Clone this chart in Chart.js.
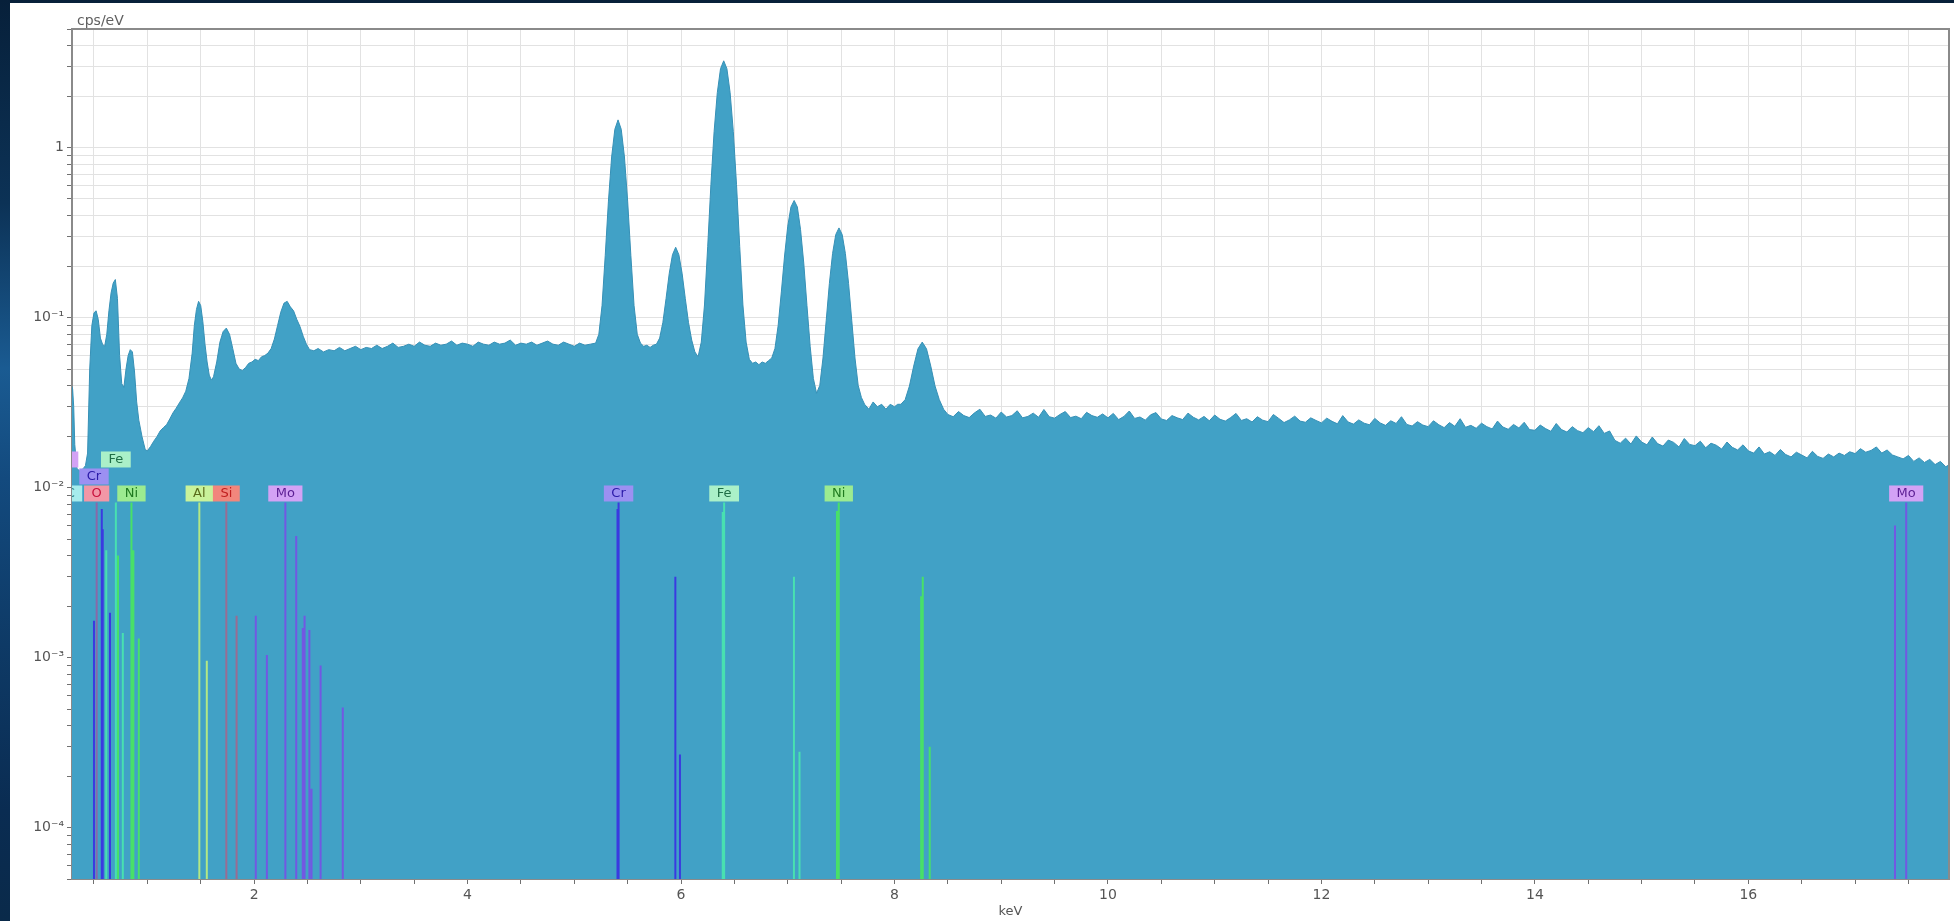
<!DOCTYPE html>
<html><head><meta charset="utf-8">
<script src="https://cdn.jsdelivr.net/npm/chart.js@4.4.1/dist/chart.umd.min.js"></script>
<style>
html,body{margin:0;padding:0;width:1954px;height:921px;overflow:hidden;}
body{position:relative;background:linear-gradient(180deg,#07203a 0%,#0c3256 22%,#1a5b92 40%,#134a7e 52%,#0e3a66 70%,#0a2c52 88%,#0a2a4a 100%);}
#panel{position:absolute;left:10px;top:3px;width:1944px;height:918px;background:#ffffff;}
canvas{display:block;}
</style></head><body>
<div id="panel"><canvas id="c" width="1944" height="918"></canvas></div>
<script>
// ---- spectrum (keV, cps/eV) ----
const energyKeV = [
 0.29,0.30,0.31,0.32,0.34,0.37,0.40,0.42,0.44,0.46,
 0.48,0.50,0.52,0.54,0.56,0.58,0.60,0.62,0.64,0.66,
 0.68,0.70,0.72,0.74,0.76,0.78,0.80,0.82,0.84,0.86,
 0.88,0.90,0.92,0.95,0.98,1.00,
 1.03,1.06,1.09,1.12,1.15,1.18,1.21,1.24,1.27,1.30,
 1.33,1.36,1.39,1.42,1.44,1.46,1.48,1.50,1.52,1.54,
 1.56,1.58,1.60,1.62,1.65,1.68,1.71,1.74,1.77,1.80,
 1.83,1.86,1.89,1.92,1.95,1.98,2.01,2.04,2.07,2.10,
 2.13,2.16,2.19,2.22,2.25,2.28,2.31,2.34,2.37,2.40,
 2.43,2.46,2.49,2.52,2.56,2.60,
 2.65,2.70,2.75,2.80,2.85,2.90,2.95,3.00,3.05,3.10,
 3.15,3.20,3.25,3.30,3.35,3.40,3.45,3.50,3.55,3.60,
 3.65,3.70,3.75,3.80,3.85,3.90,3.95,4.00,4.05,4.10,
 4.15,4.20,4.25,4.30,4.35,4.40,4.45,4.50,4.55,4.60,
 4.65,4.70,4.75,4.80,4.85,4.90,4.95,5.00,5.05,5.10,
 5.15,
 5.20,5.23,5.26,5.29,5.32,5.35,5.38,5.41,5.44,5.47,
 5.50,5.53,5.56,5.59,5.62,5.65,5.68,5.71,5.74,5.77,
 5.80,5.83,5.86,5.89,5.92,5.95,5.98,6.01,6.04,6.07,
 6.10,6.13,6.16,6.19,6.22,6.25,6.28,6.31,6.34,6.37,
 6.40,6.43,6.46,6.49,6.52,6.55,6.58,6.61,6.64,6.67,
 6.70,6.73,6.76,6.79,6.82,6.85,6.88,6.91,6.94,6.97,
 7.00,7.03,7.06,7.09,7.12,7.15,7.18,7.21,7.24,7.27,
 7.30,7.33,7.36,7.39,7.42,7.45,7.48,7.51,7.54,7.57,
 7.60,7.63,7.66,7.69,7.72,7.76,7.80,7.84,7.88,7.92,
 7.96,8.00,8.03,8.06,8.10,8.14,8.18,8.22,8.26,8.30,
 8.34,8.38,8.42,8.46,
 8.50,8.55,8.60,8.65,8.70,8.75,8.80,8.85,8.90,8.95,
 9.00,9.05,9.10,9.15,9.20,9.25,9.30,9.35,9.40,9.45,
 9.50,9.55,9.60,9.65,9.70,9.75,9.80,9.85,9.90,9.95,
 10.00,10.05,10.10,10.15,10.20,10.25,10.30,10.35,10.40,10.45,
 10.50,10.55,10.60,10.65,10.70,10.75,10.80,10.85,10.90,10.95,
 11.00,11.05,11.10,11.15,11.20,11.25,11.30,11.35,11.40,11.45,
 11.50,11.55,11.60,11.65,11.70,11.75,11.80,11.85,11.90,11.95,
 12.00,12.05,12.10,12.15,12.20,12.25,12.30,12.35,12.40,12.45,
 12.50,12.55,12.60,12.65,12.70,12.75,12.80,12.85,12.90,12.95,
 13.00,13.05,13.10,13.15,13.20,13.25,13.30,13.35,13.40,13.45,
 13.50,13.55,13.60,13.65,13.70,13.75,13.80,13.85,13.90,13.95,
 14.00,14.05,14.10,14.15,14.20,14.25,14.30,14.35,14.40,14.45,
 14.50,14.55,14.60,14.65,14.70,14.75,14.80,14.85,14.90,14.95,
 15.00,15.05,15.10,15.15,15.20,15.25,15.30,15.35,15.40,15.45,
 15.50,15.55,15.60,15.65,15.70,15.75,15.80,15.85,15.90,15.95,
 16.00,16.05,16.10,16.15,16.20,16.25,16.30,16.35,16.40,16.45,
 16.50,16.55,16.60,16.65,16.70,16.75,16.80,16.85,16.90,16.95,
 17.00,17.05,17.10,17.15,17.20,17.25,17.30,17.35,17.40,17.45,
 17.50,17.55,17.60,17.65,17.70,17.75,17.80,17.85,17.90
];
const cpsPerEV = [
 .040,.038,.030,.018,.013,.0125,.013,.0135,.016,.050,
 .090,.107,.110,.098,.076,.070,.068,.080,.110,.140,
 .160,.168,.130,.060,.041,.039,.050,.060,.065,.063,
 .048,.032,.025,.020,.0168,.0165,
 .0175,.0188,.0200,.0216,.0226,.0235,.0254,.0276,.0294,.0316,
 .0338,.0370,.0440,.062,.090,.112,.125,.118,.095,.070,
 .055,.046,.043,.045,.055,.072,.083,.087,.080,.066,
 .054,.050,.049,.051,.054,.055,.057,.056,.059,.060,
 .062,.066,.075,.090,.108,.122,.125,.116,.110,.098,
 .089,.078,.070,.065,.064,.066,
 .063,.065,.064,.067,.064,.066,.068,.065,.067,.066,
 .069,.066,.068,.071,.067,.068,.070,.068,.072,.069,
 .068,.071,.069,.070,.073,.069,.071,.070,.068,.072,
 .070,.069,.072,.070,.071,.074,.069,.071,.070,.072,
 .069,.071,.073,.070,.069,.072,.070,.068,.071,.069,
 .070,
 .071,.080,.118,.233,.486,.883,1.285,1.46,1.285,.883,
 .486,.233,.118,.080,.071,.068,.069,.067,.069,.070,
 .076,.094,.130,.183,.235,.260,.235,.183,.130,.094,
 .074,.063,.059,.072,.119,.262,.607,1.245,2.11,2.92,
 3.25,2.92,2.11,1.245,.607,.262,.119,.072,.057,.054,
 .055,.053,.055,.054,.056,.058,.066,.090,.142,.231,
 .346,.449,.490,.449,.330,.210,.118,.068,.044,.036,
 .040,.058,.096,.159,.239,.309,.338,.309,.239,.159,
 .096,.058,.040,.034,.031,.029,.032,.030,.031,.029,
 .031,.030,.031,.031,.033,.0397,.052,.0657,.072,.0657,
 .052,.0397,.033,.029,
 .0270,.0262,.0281,.0266,.0259,.0276,.0290,.0263,.0268,.0257,
 .0279,.0261,.0266,.0284,.0258,.0263,.0275,.0260,.0289,.0262,
 .0257,.0270,.0281,.0259,.0264,.0255,.0278,.0266,.0260,.0272,
 .0258,.0274,.0252,.0263,.0283,.0256,.0261,.0250,.0269,.0277,
 .0254,.0249,.0266,.0258,.0252,.0275,.0260,.0251,.0263,.0248,
 .0268,.0253,.0247,.0259,.0274,.0249,.0255,.0244,.0262,.0250,
 .0245,.0270,.0256,.0242,.0251,.0264,.0247,.0243,.0258,.0249,
 .0241,.0257,.0246,.0238,.0266,.0244,.0237,.0251,.0240,.0235,
 .0256,.0241,.0233,.0248,.0239,.0262,.0236,.0231,.0245,.0234,
 .0229,.0248,.0235,.0226,.0242,.0230,.0255,.0227,.0233,.0224,
 .0240,.0229,.0222,.0247,.0228,.0221,.0236,.0225,.0243,.0220,
 .0218,.0234,.0223,.0215,.0239,.0220,.0213,.0229,.0217,.0211,
 .0226,.0214,.0232,.0209,.0216,.0190,.0183,.0196,.0181,.0202,
 .0186,.0179,.0199,.0182,.0176,.0191,.0185,.0174,.0195,.0180,
 .0177,.0188,.0172,.0183,.0178,.0169,.0186,.0173,.0167,.0179,
 .0165,.0160,.0174,.0158,.0163,.0155,.0168,.0157,.0152,.0162,
 .0156,.0150,.0164,.0153,.0149,.0158,.0152,.0160,.0155,.0163,
 .0159,.0170,.0162,.0166,.0174,.0160,.0167,.0156,.0152,.0148,
 .0155,.0143,.0150,.0141,.0147,.0137,.0143,.0133,.0139
];

// ---- axes ----
const xRange = [0.294, 17.88];
const yRange = [5e-5, 5];
const xTickLabels = [2, 4, 6, 8, 10, 12, 14, 16];
const yTickValues = [1e-4, 1e-3, 1e-2, 1e-1, 1];
const yTickLabels = ['10⁻⁴', '10⁻³', '10⁻²', '10⁻¹', '1'];

// ---- element line markers (keV, height in cps/eV) ----
const O_lines  = [0.525];                 const O_heights  = [0.0082];
const Cr_lines = [0.500, 0.573, 0.582, 0.650, 5.405, 5.415, 5.947, 5.990];
const Cr_heights = [0.00165, 0.0075, 0.0057, 0.00184, 0.0075, 0.0082, 0.0030, 0.00027];
const Fe_lines = [0.615, 0.705, 0.770, 6.391, 6.404, 7.058, 7.110];
const Fe_heights = [0.0043, 0.0082, 0.0014, 0.0072, 0.0082, 0.0030, 0.00028];
const Ni_lines = [0.725, 0.851, 0.869, 0.920, 7.461, 7.478, 8.250, 8.265, 8.330];
const Ni_heights = [0.0040, 0.0082, 0.0043, 0.0013, 0.0073, 0.0082, 0.0023, 0.0030, 0.0003];
const Al_lines = [1.487, 1.557];          const Al_heights = [0.0082, 0.00096];
const Si_lines = [1.740, 1.836];          const Si_heights = [0.0082, 0.00177];
const Mo_lines = [2.016, 2.120, 2.293, 2.395, 2.456, 2.473, 2.518, 2.538, 2.623, 2.831, 17.374, 17.479];
const Mo_heights = [0.00177, 0.00104, 0.0082, 0.0052, 0.0015, 0.00177, 0.00146, 0.00017, 0.0009, 0.00051, 0.0060, 0.0082];

// ---- element labels ----
const labelText = ['Mo', 'C', 'O', 'Cr', 'Fe', 'Ni', 'Al', 'Si', 'Mo', 'Cr', 'Fe', 'Ni', 'Mo'];
const labelKeV  = [0.193, 0.277, 0.525, 0.500, 0.705, 0.851, 1.487, 1.740, 2.293, 5.415, 6.404, 7.478, 17.479];
const labelTier = [2, 0, 0, 1, 2, 0, 0, 0, 0, 0, 0, 0, 0];

const elementStyle = {
  C:  {line:'#40d8e0', box:'#a6ecec', text:'#1a7a80'},
  O:  {line:'#8a68a8', box:'#f297a6', text:'#c8103c'},
  Cr: {line:'#3a3ae0', box:'#9c90f2', text:'#2a1aa8'},
  Fe: {line:'#48e0b0', box:'#aaf0c8', text:'#1f6e46'},
  Ni: {line:'#48e068', box:'#9ceb90', text:'#1f7a1f'},
  Al: {line:'#b4e884', box:'#c9f29a', text:'#5a6a1a'},
  Si: {line:'#9a6c92', box:'#f2867c', text:'#c01e1e'},
  Mo: {line:'#7258e2', box:'#d3a2f5', text:'#5a1e92'}
};

function markerData(es, hs) {
  const d = [];
  es.forEach((e, i) => { d.push({x:e, y:yRange[0]}, {x:e, y:hs[i]}, {x:e, y:null}); });
  return d;
}
function markerSet(name, es, hs) {
  return {type:'line', label:name, data:markerData(es, hs), borderColor:elementStyle[name].line,
          borderWidth:2, pointRadius:0, fill:false, tension:0, spanGaps:false, order:1};
}

const spectrum = energyKeV.map((e, i) => ({x:e, y:cpsPerEV[i]}));

const yTicksList = [];
for (let d = -5; d <= 0; d++) {
  for (let m = 1; m <= 9; m++) {
    const v = m * Math.pow(10, d);
    if (v >= yRange[0] * 0.999 && v <= yRange[1] * 1.001) yTicksList.push(v);
  }
}
const xTicksList = [];
for (let k = 1; k * 0.5 < xRange[1]; k++) xTicksList.push(k * 0.5);

const overlay = {
  id:'overlay',
  afterDatasetsDraw(chart) {
    const {ctx, chartArea:a, scales:{x, y}} = chart;
    ctx.save();
    ctx.beginPath(); ctx.rect(a.left, a.top, a.right - a.left, a.bottom - a.top); ctx.clip();
    ctx.font = '13px "DejaVu Sans"';
    ctx.textAlign = 'center'; ctx.textBaseline = 'middle';
    const base = y.getPixelForValue(0.0082) - 1;
    labelText.forEach((t, i) => {
      const st = elementStyle[t];
      const cx = x.getPixelForValue(labelKeV[i]);
      const w = ctx.measureText(t).width + 15, h = 16;
      const bottom = base - labelTier[i] * 17;
      ctx.fillStyle = st.box; ctx.fillRect(cx - w / 2, bottom - h, w, h);
      ctx.fillStyle = st.text; ctx.fillText(t, cx, bottom - h / 2 + 0.5);
    });
    ctx.restore();
    ctx.save();
    ctx.strokeStyle = '#8a8a8a'; ctx.lineWidth = 2;
    ctx.beginPath(); ctx.moveTo(a.left, a.top); ctx.lineTo(a.right, a.top); ctx.lineTo(a.right, a.bottom); ctx.stroke();
    ctx.fillStyle = '#606060'; ctx.font = '14px "DejaVu Sans"';
    ctx.textAlign = 'left'; ctx.textBaseline = 'middle';
    ctx.fillText('cps/eV', a.left + 5, a.top - 8);
    ctx.restore();
  }
};

new Chart(document.getElementById('c'), {
  type:'line',
  data:{datasets:[
    markerSet('Cr', Cr_lines, Cr_heights),
    markerSet('Mo', Mo_lines, Mo_heights),
    markerSet('O', O_lines, O_heights),
    markerSet('Fe', Fe_lines, Fe_heights),
    markerSet('Ni', Ni_lines, Ni_heights),
    markerSet('Al', Al_lines, Al_heights),
    markerSet('Si', Si_lines, Si_heights),
    {type:'line', label:'spectrum', data:spectrum, fill:'start', backgroundColor:'#41a1c6',
     borderColor:'#3690b6', borderWidth:1, pointRadius:0, tension:0, order:10}
  ]},
  options:{
    responsive:false, animation:false, events:[],
    layout:{padding:{left:0, top:26, right:5, bottom:0}},
    plugins:{legend:{display:false}, tooltip:{enabled:false}, title:{display:false}},
    scales:{
      x:{type:'linear', min:xRange[0], max:xRange[1],
         afterBuildTicks:(s) => { s.ticks = xTicksList.map(v => ({value:v})); },
         afterFit:(s) => { s.height = 42; },
         ticks:{autoSkip:false, maxRotation:0, padding:3, color:'#555', font:{family:'DejaVu Sans', size:14},
                callback:(v) => xTickLabels.some(t => Math.abs(t - v) < 1e-6) ? String(v) : ''},
         grid:{color:'#e2e2e2', lineWidth:1, drawTicks:true, tickLength:5, tickColor:'#707070'},
         border:{display:true, color:'#8a8a8a', width:2},
         title:{display:true, text:'keV', color:'#555', font:{family:'DejaVu Sans', size:13}, padding:{top:0, bottom:2}}},
      y:{type:'logarithmic', min:yRange[0], max:yRange[1],
         afterBuildTicks:(s) => { s.ticks = yTicksList.map(v => ({value:v})); },
         afterFit:(s) => { s.width = 62; },
         ticks:{autoSkip:false, padding:3, color:'#555', font:{family:'DejaVu Sans', size:14},
                callback:(v) => { const i = yTickValues.findIndex(t => Math.abs(t - v) / t < 1e-6); return i >= 0 ? yTickLabels[i] : ''; }},
         grid:{color:'#e2e2e2', lineWidth:1, drawTicks:true, tickLength:5, tickColor:'#707070'},
         border:{display:true, color:'#8a8a8a', width:2}}
    }
  },
  plugins:[overlay]
});
</script>
</body></html>
